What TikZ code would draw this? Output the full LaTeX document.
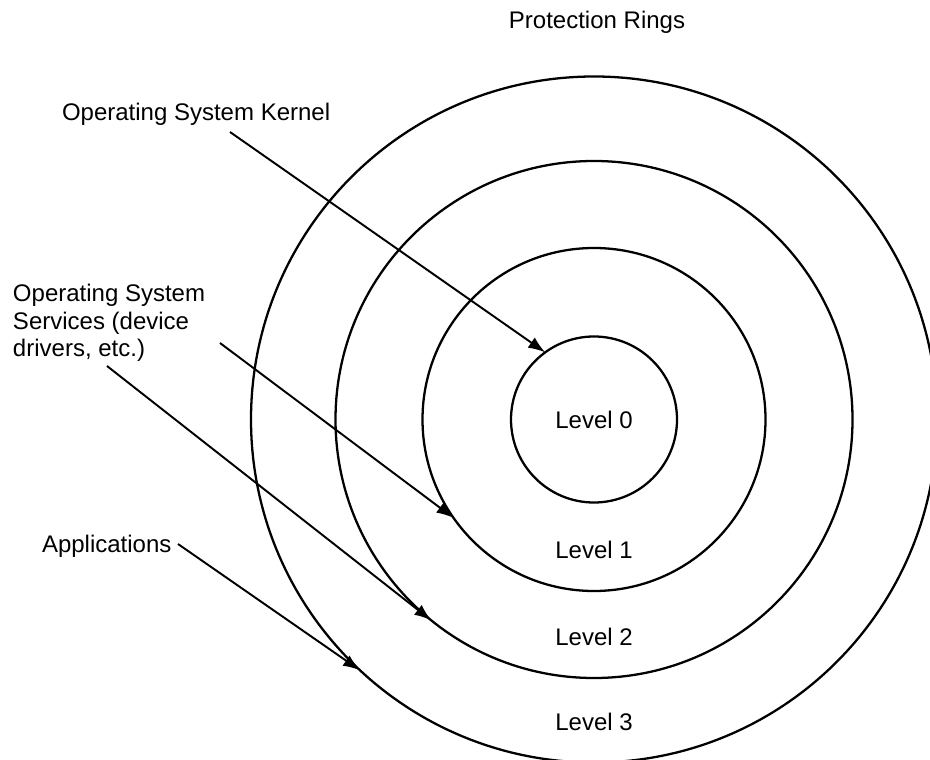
\documentclass[tikz,border=0pt]{standalone}
\usepackage{fontspec}
\setmainfont{Liberation Sans}
\usetikzlibrary{arrows.meta,shapes}

\begin{document}
\begin{tikzpicture}[every node/.style={inner sep=0pt, outer sep=0pt, font=\fontsize{13.66}{15.7}\selectfont},
    ring/.style={draw, circle, line width=1.3pt},
    pointer/.style={-{Latex[length=3.4mm,width=2.5mm]}, line width=1.1pt}]
    \useasboundingbox (0,0) rectangle (18.6,15.18);
    % rings (inner to outer)
    \node[ring, minimum size=3.32cm] (ring0) at (11.88,6.79) {};
    \node[ring, minimum size=6.86cm] (ring1) at (11.88,6.79) {};
    \node[ring, minimum size=10.34cm] (ring2) at (11.88,6.79) {};
    \node[ring, minimum size=13.72cm] (ring3) at (11.88,6.79) {};
    % title
    \node[anchor=base] (title) at (11.94,14.6) {Protection Rings};
    % level names
    \node (lvl0) at (11.88,6.78) {Level 0};
    \node (lvl1) at (11.88,4.18) {Level 1};
    \node (lvl2) at (11.88,2.44) {Level 2};
    \node (lvl3) at (11.88,0.74) {Level 3};
    % captions on the left
    \node[anchor=base west] (kernel) at (1.24,12.76) {Operating System Kernel};
    \node[anchor=base west, align=left] (services) at (0.26,8.04) {Operating System\\Services (device\\drivers, etc.)};
    \node[anchor=base west] (apps) at (0.84,4.14) {Applications};
    % where the arrows start
    \coordinate (kernel0) at (4.6,12.54);
    \coordinate (services1) at (4.4,8.32);
    \coordinate (services2) at (2.14,7.86);
    \coordinate (apps3) at (3.56,4.30);
    % arrows
    \draw[pointer] (kernel0) -- (ring0.126.6);
    \draw[pointer] (services1) -- (ring1.215.6);
    \draw[pointer] (services2) -- (ring2.231.6);
    \draw[pointer] (apps3) -- (ring3.227.7);
\end{tikzpicture}
\end{document}
